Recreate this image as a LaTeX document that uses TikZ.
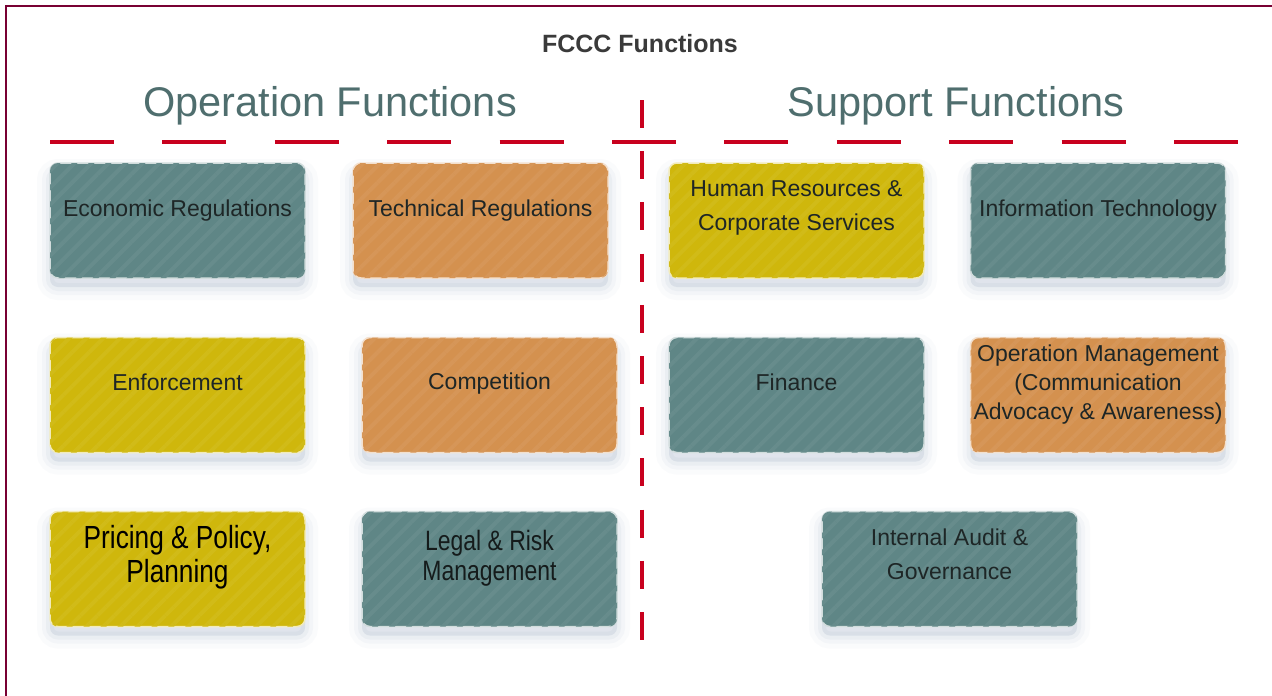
\documentclass[tikz,border=0pt]{standalone}
\usepackage{fontspec}
\setmainfont{Liberation Sans}
\newfontfamily\narrowfont[FakeStretch=0.82]{Liberation Sans}
\usetikzlibrary{patterns.meta}

\definecolor{tealbox}{HTML}{5F8686}
\definecolor{orangebox}{HTML}{D4914F}
\definecolor{yellowbox}{HTML}{CFB70C}
\definecolor{headgrey}{HTML}{4F6E6E}
\definecolor{titlegrey}{HTML}{3A3A3A}
\definecolor{dashred}{HTML}{C8001E}
\definecolor{framemaroon}{HTML}{780032}
\definecolor{boxtext}{HTML}{1E2626}
\definecolor{shadowc}{HTML}{8C9CB8}

\tikzset{
  softshadow/.style={
    preaction={draw=shadowc, line width=26pt, draw opacity=0.035,
      transform canvas={yshift=-9pt}},
    preaction={draw=shadowc, line width=16pt, draw opacity=0.06,
      transform canvas={yshift=-9pt}},
    preaction={draw=shadowc, line width=8pt, draw opacity=0.08,
      transform canvas={yshift=-9pt}},
    preaction={fill=shadowc, fill opacity=0.18,
      transform canvas={yshift=-9pt}}},
  fbox/.style={rounded corners=8pt, minimum width=255pt, minimum height=115pt,
    inner sep=0pt, softshadow, fill=#1, draw=white!72!#1, line width=1.5pt,
    postaction={pattern={Lines[angle=45,distance=12pt,line width=4pt]},
      pattern color=#1!95!white}},
  ftext/.style={align=center, text=boxtext, inner sep=0pt,
    font=\fontsize{23}{34}\selectfont},
  fnarrow/.style 2 args={align=center, text=boxtext!70!black, inner sep=0pt,
    font=\narrowfont\fontsize{#1}{#2}\selectfont},
  heading/.style={text=headgrey, font=\fontsize{41.5}{48}\selectfont, inner sep=0pt},
  divider/.style={dashred, line width=4pt},
}

\begin{document}
\begin{tikzpicture}[x=1pt,y=-1pt]
  \useasboundingbox (0,0) rectangle (1272,696);
  \fill[white] (0,0) rectangle (1272,696);

  % frame along the top and left edges
  \coordinate (frameBL) at (6,696);
  \coordinate (frameTL) at (6,6);
  \coordinate (frameTR) at (1272,6);
  \draw[framemaroon, line width=2pt] (frameBL) -- (frameTL) -- (frameTR);

  % titles
  \node[text=titlegrey, font=\bfseries\fontsize{25}{30}\selectfont, inner sep=0pt]
    (title) at (640,44) {FCCC Functions};
  \node[heading] (ophead) at (330,106) {Operation Functions};
  \node[heading] (suphead) at (956,106) {Support Functions};

  % dashed dividers
  \coordinate (hL) at (50,142);
  \coordinate (hR) at (1238,142);
  \coordinate (vT) at (642,100);
  \coordinate (vB) at (642,640);
  \draw[divider, dash pattern=on 64pt off 48.4pt] (hL) -- (hR);
  \draw[divider, dash pattern=on 28pt off 23.2pt] (vT) -- (vB);

  % operation function boxes
  \node[fbox=tealbox]   (econ)  at (177.5,220.5) {};
  \node[fbox=orangebox] (tech)  at (480.5,220.5) {};
  \node[fbox=yellowbox] (enf)   at (177.5,395) {};
  \node[fbox=orangebox] (comp)  at (489.5,395) {};
  \node[fbox=yellowbox] (price) at (177.5,569) {};
  \node[fbox=tealbox]   (legal) at (489.5,569) {};

  % support function boxes
  \node[fbox=yellowbox] (hr)    at (796.5,220.5) {};
  \node[fbox=tealbox]   (it)    at (1098,220.5) {};
  \node[fbox=tealbox]   (fin)   at (796.5,395) {};
  \node[fbox=orangebox] (opm)   at (1098,395) {};
  \node[fbox=tealbox]   (audit) at (949.5,569) {};

  % box labels
  \node[ftext] (econ-t)  at ([yshift=10pt]econ.center) {Economic Regulations};
  \node[ftext] (tech-t)  at ([yshift=10pt]tech.center) {Technical Regulations};
  \node[ftext] (enf-t)   at ([yshift=13pt]enf.center) {Enforcement};
  \node[ftext] (comp-t)  at ([yshift=11pt]comp.center) {Competition};
  \node[fnarrow={32}{34}, text=black] (price-t) at ([yshift=12pt]price.center) {Pricing \& Policy,\\Planning};
  \node[fnarrow={28}{30}] (legal-t) at ([yshift=11pt]legal.center) {Legal \& Risk\\Management};
  \node[ftext] (hr-t)    at ([yshift=13pt]hr.center) {Human Resources \&\\Corporate Services};
  \node[ftext] (it-t)    at ([yshift=10pt]it.center) {Information Technology};
  \node[ftext] (fin-t)   at ([yshift=13pt]fin.center) {Finance};
  \node[ftext, font=\fontsize{23}{29}\selectfont] (opm-t) at ([yshift=10pt]opm.center)
    {Operation Management\\(Communication\\Advocacy \& Awareness)};
  \node[ftext] (audit-t) at ([yshift=15pt]audit.center) {Internal Audit \&\\Governance};
\end{tikzpicture}
\end{document}
